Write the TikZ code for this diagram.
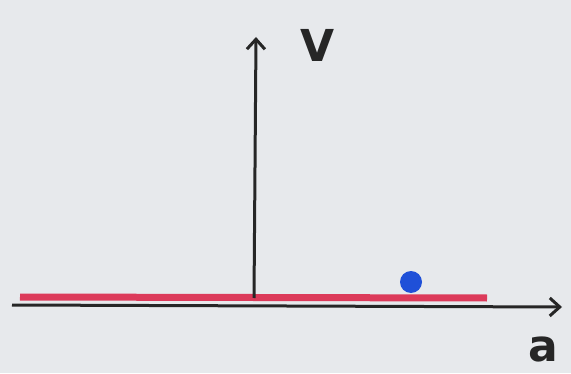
\documentclass[tikz,border=0pt]{standalone}
\usepackage{fontspec}
\setmainfont{DejaVu Sans}
\usetikzlibrary{arrows.meta}
\definecolor{bg}{HTML}{E7E9EC}
\definecolor{redline}{HTML}{DC3A5A}
\definecolor{dotblue}{HTML}{1F50D8}
\tikzset{
  axis/.style={line width=3pt, draw=black!85, -{Straight Barb[length=10pt,width=18pt,line width=3pt]}},
  lbl/.style={font=\bfseries\fontsize{44}{44}\selectfont, text=black!85, inner sep=0pt},
}
\begin{document}
\begin{tikzpicture}[x=1pt,y=1pt]
\fill[bg] (0,0) rectangle (571,373);
\useasboundingbox (0,0) rectangle (571,373);
\coordinate (xs) at (12,68);
\coordinate (xe) at (562,66);
\coordinate (ys) at (254,75);
\coordinate (ye) at (256,336);
\coordinate (rs) at (20,76);
\coordinate (re) at (487,75);
\draw[redline, line width=7pt] (rs) -- (re);
\draw[axis] (xs) -- (xe);
\draw[axis] (ys) -- (ye);
\node[circle, fill=dotblue, minimum size=22pt, inner sep=0pt] (dot) at (411,91) {};
\node[lbl] (V) at (318,328) {V};
\node[lbl] (a) at (543,24) {a};
\end{tikzpicture}
\end{document}
